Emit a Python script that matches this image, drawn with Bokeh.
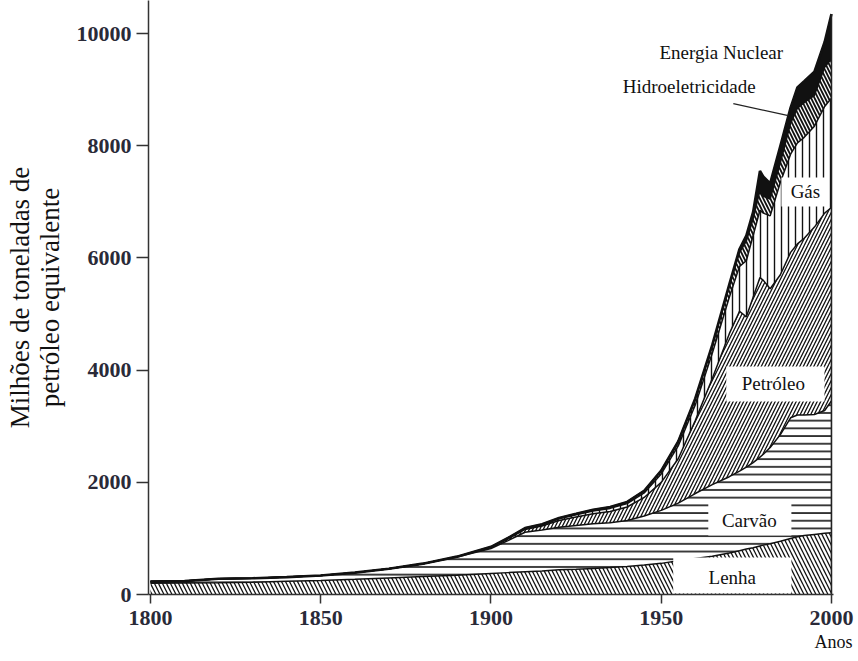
import numpy as np
from bokeh.plotting import figure
from bokeh.models import Range1d, FixedTicker
from bokeh.core.properties import value
from bokeh.embed import file_html
from bokeh.resources import INLINE

# ---------------- data (Mtoe) ----------------
years = [1800, 1810, 1820, 1830, 1840, 1850, 1860, 1870, 1880, 1890,
         1900, 1905, 1910, 1915, 1920, 1925, 1930, 1935, 1940, 1945,
         1950, 1955, 1960, 1965, 1970,
         1973, 1975, 1977, 1979, 1980, 1982, 1985, 1988, 1990, 1992, 1995, 1998, 2000]
lenha = [200, 205, 210, 220, 235, 250, 270, 295, 320, 345,
         375, 390, 405, 420, 440, 450, 465, 480, 500, 525,
         555, 600, 640, 680, 740,
         780, 810, 835, 865, 880, 905, 950, 1000, 1030, 1050, 1070, 1090, 1100]
carvao = [30, 35, 70, 70, 75, 90, 120, 165, 230, 325,
          445, 570, 705, 730, 760, 780, 795, 800, 820, 875,
          945, 1030, 1160, 1280, 1360,
          1420, 1460, 1515, 1585, 1620, 1715, 1900, 2150, 2170, 2150, 2140, 2190, 2350]
petroleo = [0, 0, 0, 0, 0, 0, 0, 0, 0, 5,
            20, 30, 50, 70, 120, 150, 180, 200, 240, 330,
            500, 790, 1300, 1890, 2550,
            2850, 2680, 2950, 3200, 3100, 2830, 2850, 2950, 3050, 3150, 3340, 3520, 3450]
gas = [0, 0, 0, 0, 0, 0, 0, 0, 0, 0,
       5, 10, 15, 20, 30, 40, 50, 55, 60, 80,
       150, 230, 280, 450, 650,
       800, 1000, 1100, 1200, 1200, 1300, 1650, 1750, 1800, 1800, 1800, 1900, 1950]
hidro = [0, 0, 0, 0, 0, 0, 0, 0, 0, 0,
         5, 8, 10, 12, 15, 18, 22, 25, 30, 40,
         60, 80, 110, 140, 200,
         250, 350, 300, 350, 300, 300, 350, 550, 620, 620, 550, 700, 700]
nuclear = [0, 0, 0, 0, 0, 0, 0, 0, 0, 0,
           0, 0, 0, 0, 0, 0, 0, 0, 0, 0,
           0, 0, 5, 10, 30,
           60, 100, 120, 350, 350, 280, 300, 280, 370, 380, 420, 450, 800]

series_names = ["Lenha", "Carvão", "Petróleo", "Gás", "Hidroeletricidade", "Energia Nuclear"]
y_ticks = [0, 2000, 4000, 6000, 8000, 10000]
x_ticks = [1800, 1850, 1900, 1950, 2000]

SERIF = "Liberation Serif"

# ---------------- figure ----------------
W, H = 858, 661
p = figure(width=W, height=H, output_backend="svg", toolbar_location=None,
           x_range=Range1d(1799.41, 2000.6), y_range=Range1d(0, 10590),
           min_border_left=148, min_border_right=25, min_border_top=0,
           min_border_bottom=67)
p.outline_line_color = None
p.xgrid.visible = False
p.ygrid.visible = False
p.background_fill_color = "white"
p.border_fill_color = "white"

# screen-pixel -> data helpers for annotation placement
def X(px):
    return 1800 + (px - 150) / 3.4

def Y(py):
    return (594 - py) * 10000 / 561

x = np.array(years, dtype=float)
layers = [np.array(a, dtype=float) for a in (lenha, carvao, petroleo, gas, hidro, nuclear)]
tops = np.cumsum(np.vstack(layers), axis=0)
bottoms = np.vstack([np.zeros_like(x), tops[:-1]])

styles = [
    dict(hatch_pattern="\\", hatch_scale=8, hatch_weight=1.3),   # Lenha
    dict(hatch_pattern="-", hatch_scale=7.7, hatch_weight=1.6),  # Carvão
    dict(hatch_pattern="/", hatch_scale=7, hatch_weight=1.3),    # Petróleo
    dict(hatch_pattern="|", hatch_scale=7, hatch_weight=1.4),    # Gás
    dict(hatch_pattern="\\", hatch_scale=7, hatch_weight=1.8),   # Hidro
    None,                                                        # Nuclear
]
fills = ["white", "white", "white", "white", "white", "#111111"]

for i in range(6):
    kw = {}
    if styles[i] is not None:
        kw = dict(styles[i])
        kw["hatch_color"] = "#111111"
    p.varea(x=x, y1=bottoms[i], y2=tops[i], fill_color=fills[i], **kw)

for i in range(5):
    p.line(x, tops[i], line_color="#111111", line_width=1.5)
p.line(x, tops[5], line_color="#111111", line_width=2.6)
p.segment(x0=[x[-1]], y0=[0], x1=[x[-1]], y1=[tops[5][-1]],
          line_color="#222222", line_width=1.6)

# ---------------- axes ----------------
for ax in (p.xaxis[0], p.yaxis[0]):
    ax.major_label_text_font = SERIF
    ax.major_label_text_font_size = "22px"
    ax.major_label_text_font_style = "bold"
    ax.major_label_text_color = "#2a2a38"
    ax.axis_line_color = "#333333"
    ax.axis_line_width = 1.5
    ax.major_tick_line_color = "#333333"
    ax.major_tick_line_width = 1.5
    ax.major_tick_in = 0
    ax.minor_tick_line_color = None
p.yaxis.ticker = FixedTicker(ticks=y_ticks)
p.xaxis.ticker = FixedTicker(ticks=x_ticks)
p.yaxis.major_tick_out = 12
p.yaxis.major_label_standoff = 5
p.xaxis.major_tick_out = 9
p.xaxis.major_label_standoff = 7

p.yaxis.axis_label = "Milhões de toneladas de\npetróleo equivalente"
p.yaxis.axis_label_text_font = SERIF
p.yaxis.axis_label_text_font_size = "27px"
p.yaxis.axis_label_text_font_style = "normal"
p.yaxis.axis_label_text_color = "#111111"
p.yaxis.axis_label_standoff = 9
p.yaxis.axis_label_text_line_height = 1.0

p.xaxis.axis_label = "Anos"
p.xaxis.axis_label_text_font = SERIF
p.xaxis.axis_label_text_font_size = "18px"
p.xaxis.axis_label_text_font_style = "normal"
p.xaxis.axis_label_text_color = "#111111"
p.xaxis.axis_label_standoff = 4
p.xaxis.axis_label_align = "end"

# ---------------- label boxes (white) ----------------
box_l = [X(780), X(725), X(707), X(672)]
box_r = [X(826), X(823), X(790), X(790)]
box_t = [Y(177), Y(366), Y(503), Y(557)]
box_b = [Y(206), Y(401), Y(535), Y(593)]
p.quad(left=box_l, right=box_r, top=box_t, bottom=box_b,
       fill_color="white", line_color=None)

# leader line for Hidroeletricidade
p.line([X(732), X(787)], [Y(103), Y(115)], line_color="#222222", line_width=1.2)

# series labels
lab_x = [X(731), X(748), X(772), X(804), X(688), X(720)]
lab_y = [Y(577), Y(520), Y(383), Y(191), Y(86), Y(52)]
p.text(x=lab_x, y=lab_y, text=series_names, text_font=value(SERIF),
       text_font_size="19px", text_color="#111111",
       text_align="center", text_baseline="middle")

open("out.html", "w").write(file_html(p, INLINE))
